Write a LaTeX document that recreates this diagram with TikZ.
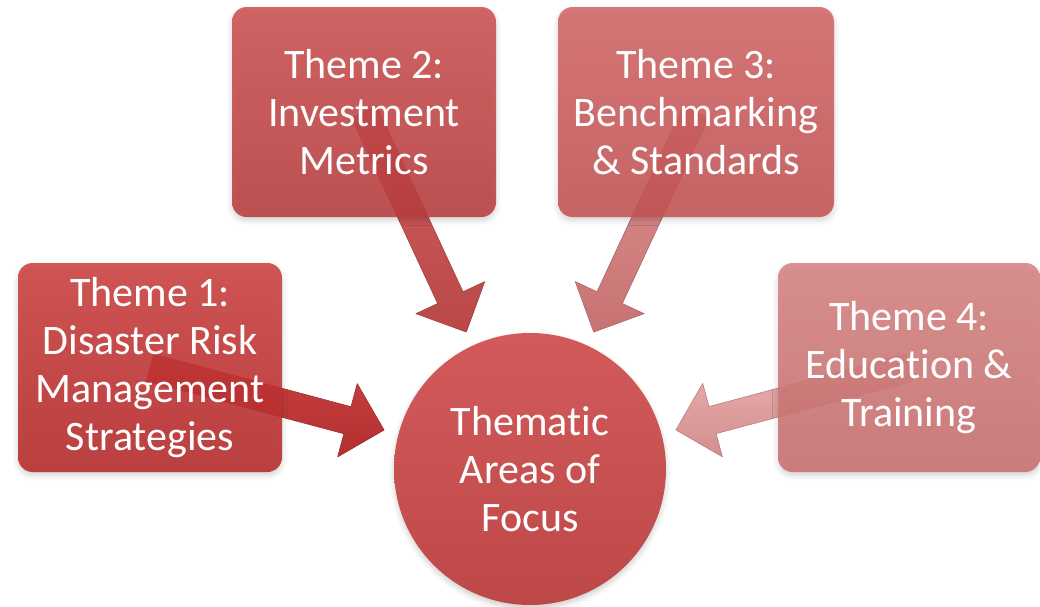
\documentclass[tikz,border=0pt]{standalone}
\usepackage{fontspec}
\setmainfont{Carlito}[Ligatures=NoCommon]
\usetikzlibrary{calc,backgrounds,shadows.blur}
\definecolor{bxoneT}{RGB}{206,66,66}
\definecolor{bxoneB}{RGB}{183,42,42}
\definecolor{bxtwoT}{RGB}{206,82,82}
\definecolor{bxtwoB}{RGB}{186,62,62}
\definecolor{bxthrT}{RGB}{212,104,104}
\definecolor{bxthrB}{RGB}{196,84,84}
\definecolor{bxfouT}{RGB}{216,132,132}
\definecolor{bxfouB}{RGB}{201,112,112}
\definecolor{circT}{RGB}{210,90,90}
\definecolor{circB}{RGB}{190,72,72}
\definecolor{aroneT}{RGB}{205,65,65}
\definecolor{aroneB}{RGB}{178,48,48}
\definecolor{artwoT}{RGB}{210,95,95}
\definecolor{artwoB}{RGB}{186,72,72}
\definecolor{arthrT}{RGB}{222,145,145}
\definecolor{arthrB}{RGB}{200,115,115}
\definecolor{arfouT}{RGB}{234,178,178}
\definecolor{arfouB}{RGB}{212,142,142}
\newcommand{\radialarrow}[4]{%
  \coordinate (raT) at (#1.center);
  \coordinate (raP) at ($(#2.center)!113.25pt!(#1.center)$);
  \coordinate (raH) at ($(raP)!28.5pt!(raT)$);
  \path[top color=#3, bottom color=#4, draw=#4!85!black, line width=0.4pt, line join=round]
    ($(raT)!10.5pt!90:(raP)$) -- ($(raH)!10.5pt!90:(raP)$) -- ($(raH)!28.5pt!90:(raP)$) -- (raP)
    -- ($(raH)!28.5pt!-90:(raP)$) -- ($(raH)!10.5pt!-90:(raP)$) -- ($(raT)!10.5pt!-90:(raP)$) -- cycle;
}
\begin{document}
\begin{tikzpicture}[x=0.75pt,y=-0.75pt,
  labeltext/.style={align=center, text=white, font=\fontsize{31.5}{36}\selectfont},
  themebox/.style={labeltext, rounded corners=11pt, inner sep=0pt, fill opacity=0.88, text opacity=1,
    blur shadow={shadow xshift=0pt, shadow yshift=-2.5pt, shadow blur radius=4pt, shadow opacity=20}},
  hubcircle/.style={labeltext, circle, inner sep=0pt, minimum size=204pt,
    blur shadow={shadow xshift=0pt, shadow yshift=-2.5pt, shadow blur radius=4pt, shadow opacity=20}}]
\useasboundingbox (0,0) rectangle (1040,607);

\node[themebox, minimum width=198pt, minimum height=156.75pt, top color=bxoneT, bottom color=bxoneB]
  (t1) at (150,367.5) {Theme 1:\\Disaster Risk\\Management\\Strategies};
\node[themebox, minimum width=198pt, minimum height=157.5pt, top color=bxtwoT, bottom color=bxtwoB]
  (t2) at (364,112) {Theme 2:\\Investment\\Metrics};
\node[themebox, minimum width=207pt, minimum height=157.5pt, top color=bxthrT, bottom color=bxthrB]
  (t3) at (696,112) {Theme 3:\\Benchmarking\\\& Standards};
\node[themebox, minimum width=196.5pt, minimum height=156.75pt, top color=bxfouT, bottom color=bxfouB]
  (t4) at (909,367.5) {Theme 4:\\Education \&\\Training};
\node[hubcircle, top color=circT, bottom color=circB]
  (hub) at (530,469) {Thematic\\Areas of\\Focus};

\begin{scope}[on background layer]
  \radialarrow{t1}{hub}{aroneT}{aroneB}
  \radialarrow{t2}{hub}{artwoT}{artwoB}
  \radialarrow{t3}{hub}{arthrT}{arthrB}
  \radialarrow{t4}{hub}{arfouT}{arfouB}
\end{scope}
\end{tikzpicture}
\end{document}
